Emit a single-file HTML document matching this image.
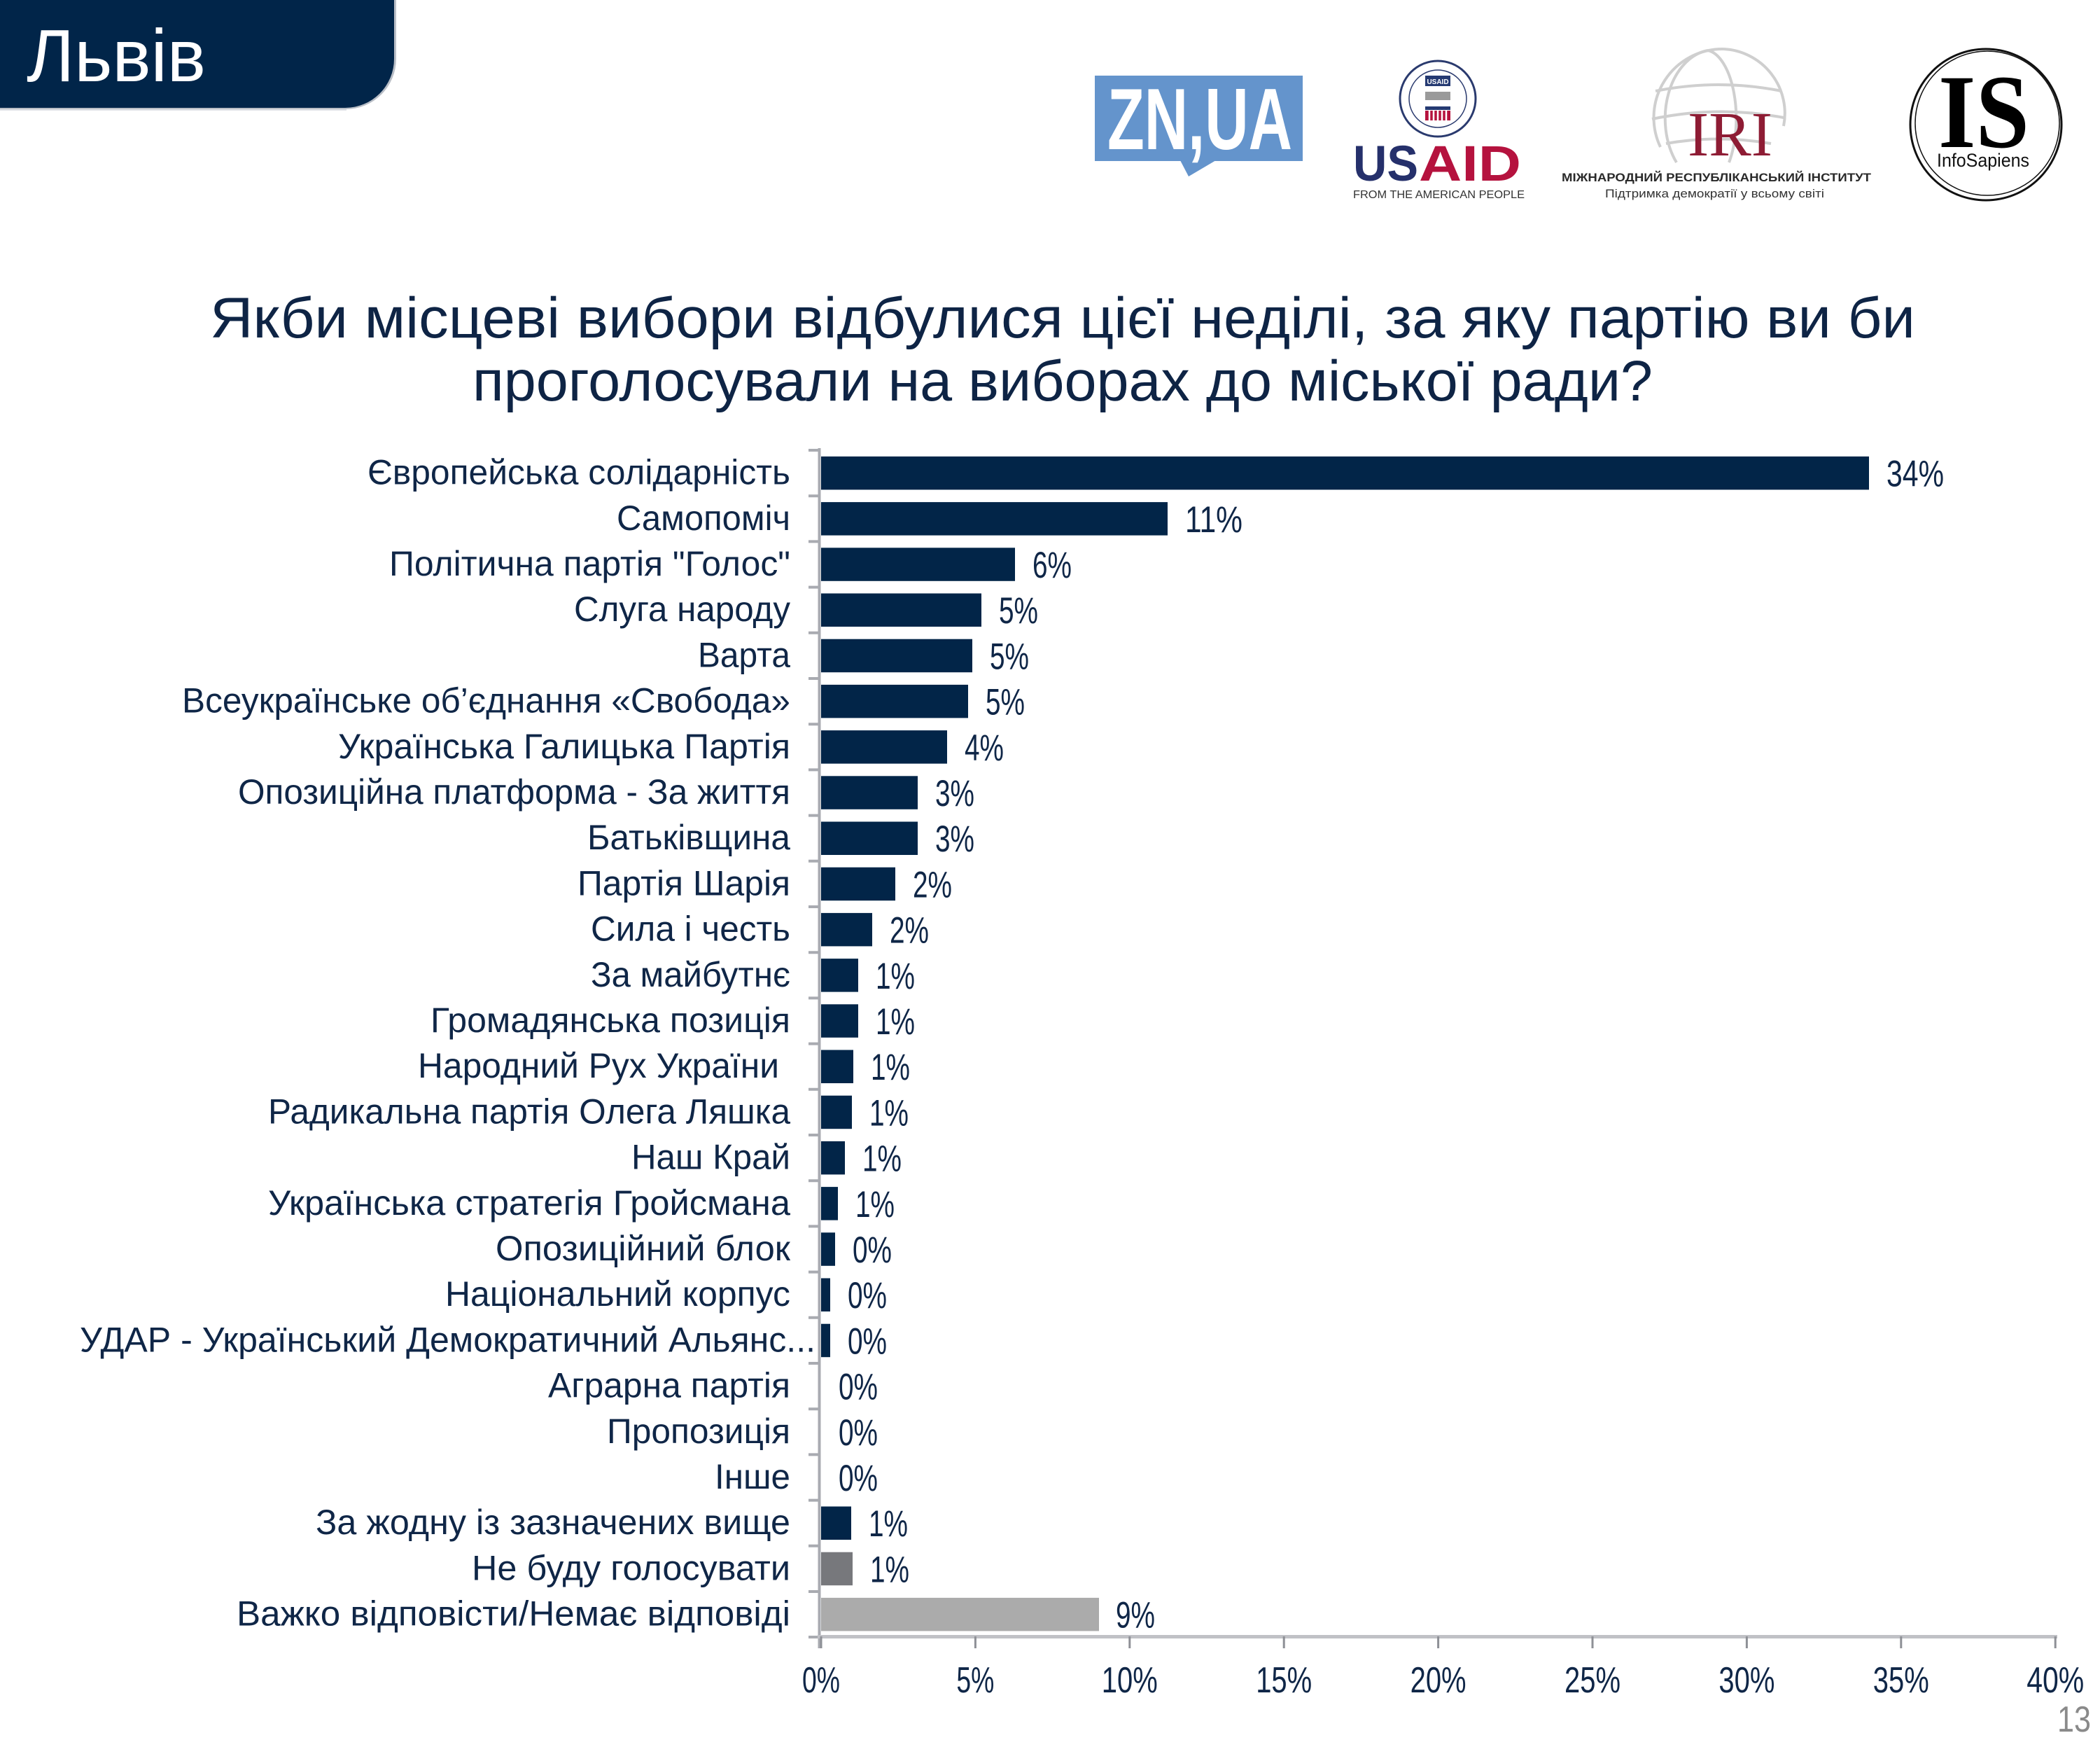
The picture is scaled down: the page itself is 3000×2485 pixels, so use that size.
<!DOCTYPE html>
<html lang="uk">
<head>
<meta charset="utf-8">
<title>Львів</title>
<style>
  html, body { margin: 0; padding: 0; background: #ffffff; }
  body { width: 3000px; height: 2485px; overflow: hidden; }
  svg { display: block; }
  text { font-family: "Liberation Sans", "DejaVu Sans", sans-serif; }
  .lbl { font-size: 50px; fill: #0f2647; text-anchor: end; }
  .val { font-size: 53px; fill: #0f2647; }
  .tick { font-size: 52px; fill: #0f2647; text-anchor: middle; }
  .title { font-size: 82px; fill: #0e2445; }
</style>
</head>
<body>
<svg width="3000" height="2485" viewBox="0 0 3000 2485" xmlns="http://www.w3.org/2000/svg">
  <rect x="0" y="0" width="3000" height="2485" fill="#ffffff"/>

  <!-- Header box -->
  <rect x="0" y="150" width="495" height="8" fill="#e0e2e7"/>
  <path d="M0,0 H566 V84 A72,72 0 0 1 494,156 H0 Z" fill="#b9bec6"/>
  <path d="M0,0 H563 V84 A70,70 0 0 1 493,154 H0 Z" fill="#012549"/>
  <text x="38" y="116" font-size="106" fill="#ffffff" textLength="256" lengthAdjust="spacingAndGlyphs">Львів</text>

  <!-- ZN,UA logo -->
  <rect x="1564" y="108" width="297" height="122" fill="#6494cc"/>
  <polygon points="1686,229 1737,229 1698,252" fill="#6494cc"/>
  <text x="1582" y="213" font-size="124" font-weight="bold" fill="#ffffff" textLength="264" lengthAdjust="spacingAndGlyphs">ZN,UA</text>

  <!-- USAID logo -->
  <circle cx="2054" cy="141" r="54" fill="#ffffff" stroke="#2a3a6e" stroke-width="3"/>
  <circle cx="2054" cy="141" r="41" fill="#ffffff" stroke="#2a3a6e" stroke-width="1.5"/>
  <rect x="2036" y="108" width="36" height="15" fill="#253a72"/>
  <text x="2054" y="120" font-size="10" fill="#ffffff" text-anchor="middle" font-weight="bold">USAID</text>
  <rect x="2036" y="131" width="36" height="12" fill="#9a9a9a"/>
  <rect x="2036" y="152" width="36" height="5" fill="#253a72"/>
  <rect x="2036" y="158" width="36" height="14" fill="#b5123e"/>
  <g stroke="#ffffff" stroke-width="2.5">
    <line x1="2042" y1="158" x2="2042" y2="172"/>
    <line x1="2048" y1="158" x2="2048" y2="172"/>
    <line x1="2054" y1="158" x2="2054" y2="172"/>
    <line x1="2060" y1="158" x2="2060" y2="172"/>
    <line x1="2066" y1="158" x2="2066" y2="172"/>
  </g>
  <text x="1933" y="258" font-size="71" font-weight="bold" fill="#25306b" textLength="93" lengthAdjust="spacingAndGlyphs">US</text>
  <text x="2027" y="258" font-size="71" font-weight="bold" fill="#b5123e" textLength="146" lengthAdjust="spacingAndGlyphs">AID</text>
  <text x="1933" y="283" font-size="16" fill="#333333" textLength="245" lengthAdjust="spacingAndGlyphs">FROM THE AMERICAN PEOPLE</text>

  <!-- IRI logo -->
  <g fill="none" stroke="#cfcfcf" stroke-width="4">
    <path d="M2372,210 A98,98 0 0 1 2462,70"/>
    <path d="M2462,70 A92,92 0 0 1 2548,180"/>
    <path d="M2395,232 A70,98 0 0 1 2440,72"/>
    <path d="M2440,72 A45,98 0 0 1 2470,232"/>
    <path d="M2365,130 Q2455,112 2545,130"/>
    <path d="M2360,170 Q2455,150 2548,168"/>
    <path d="M2380,205 Q2455,192 2530,205"/>
  </g>
  <text x="2411" y="222" font-family="Liberation Serif, serif" font-size="90" fill="#8e1c34" textLength="121" lengthAdjust="spacingAndGlyphs" style="font-family:'Liberation Serif',serif">IRI</text>
  <text x="2231" y="259" font-size="17" font-weight="bold" fill="#2a2a2a" textLength="442" lengthAdjust="spacingAndGlyphs">МІЖНАРОДНИЙ РЕСПУБЛІКАНСЬКИЙ ІНСТИТУТ</text>
  <text x="2293" y="282" font-size="17" fill="#333333" textLength="313" lengthAdjust="spacingAndGlyphs">Підтримка демократії у всьому світі</text>

  <!-- InfoSapiens logo -->
  <circle cx="2837" cy="178" r="108" fill="none" stroke="#111111" stroke-width="3"/>
  <circle cx="2839" cy="176" r="103" fill="none" stroke="#111111" stroke-width="1.5"/>
  <text x="2769" y="210" font-size="150" font-weight="bold" fill="#000000" textLength="130" lengthAdjust="spacingAndGlyphs" style="font-family:'Liberation Serif',serif">IS</text>
  <text x="2767" y="238" font-size="27" fill="#111111" textLength="132" lengthAdjust="spacingAndGlyphs">InfoSapiens</text>

  <!-- Title -->
  <text class="title" x="300" y="482" textLength="2436" lengthAdjust="spacingAndGlyphs">Якби місцеві вибори відбулися цієї неділі, за яку партію ви би</text>
  <text class="title" x="675" y="572" textLength="1686" lengthAdjust="spacingAndGlyphs">проголосували на виборах до міської ради?</text>

  <!-- Axes -->
  <line x1="1170.5" y1="640" x2="1170.5" y2="2354" stroke="#a9abb1" stroke-width="4"/>
  <path d="M1155 643 H1171 M1155 708.2 H1171 M1155 773.4 H1171 M1155 838.6 H1171 M1155 903.8 H1171 M1155 969 H1171 M1155 1034.2 H1171 M1155 1099.4 H1171 M1155 1164.6 H1171 M1155 1229.8 H1171 M1155 1295 H1171 M1155 1360.2 H1171 M1155 1425.4 H1171 M1155 1490.6 H1171 M1155 1555.8 H1171 M1155 1621 H1171 M1155 1686.2 H1171 M1155 1751.4 H1171 M1155 1816.6 H1171 M1155 1881.8 H1171 M1155 1947 H1171 M1155 2012.2 H1171 M1155 2077.4 H1171 M1155 2142.6 H1171 M1155 2207.8 H1171 M1155 2273 H1171 M1155 2338 H1171" stroke="#a9abb1" stroke-width="4" fill="none"/>
  <line x1="1168" y1="2337.5" x2="2939" y2="2337.5" stroke="#c0c1c6" stroke-width="5"/>
  <path d="M1173 2337 V2354 M1393.4 2337 V2354 M1613.8 2337 V2354 M1834.2 2337 V2354 M2054.6 2337 V2354 M2275 2337 V2354 M2495.4 2337 V2354 M2715.8 2337 V2354 M2936.2 2337 V2354" stroke="#8e9096" stroke-width="3" fill="none"/>

  <!-- Bars -->
  <g fill="#022548">
    <rect x="1173" y="651.9" width="1497" height="47.5"/>
    <rect x="1173" y="717.1" width="495" height="47.5"/>
    <rect x="1173" y="782.3" width="277" height="47.5"/>
    <rect x="1173" y="847.5" width="229" height="47.5"/>
    <rect x="1173" y="912.7" width="216" height="47.5"/>
    <rect x="1173" y="977.9" width="210" height="47.5"/>
    <rect x="1173" y="1043.1" width="180" height="47.5"/>
    <rect x="1173" y="1108.3" width="138" height="47.5"/>
    <rect x="1173" y="1173.5" width="138" height="47.5"/>
    <rect x="1173" y="1238.7" width="106" height="47.5"/>
    <rect x="1173" y="1303.9" width="73" height="47.5"/>
    <rect x="1173" y="1369.1" width="53" height="47.5"/>
    <rect x="1173" y="1434.3" width="53" height="47.5"/>
    <rect x="1173" y="1499.5" width="46" height="47.5"/>
    <rect x="1173" y="1564.7" width="44" height="47.5"/>
    <rect x="1173" y="1629.9" width="34" height="47.5"/>
    <rect x="1173" y="1695.1" width="24" height="47.5"/>
    <rect x="1173" y="1760.3" width="20" height="47.5"/>
    <rect x="1173" y="1825.5" width="13" height="47.5"/>
    <rect x="1173" y="1890.7" width="13" height="47.5"/>
    <rect x="1173" y="2151.5" width="43" height="47.5"/>
  </g>
  <rect x="1173" y="2216.7" width="45" height="47.5" fill="#77787c"/>
  <rect x="1173" y="2281.9" width="397" height="47.5" fill="#ababab"/>

  <!-- Category labels -->
  <text class="lbl" x="1129" y="691.6" textLength="604" lengthAdjust="spacingAndGlyphs">Європейська солідарність</text>
  <text class="lbl" x="1129" y="756.8" textLength="248" lengthAdjust="spacingAndGlyphs">Самопоміч</text>
  <text class="lbl" x="1129" y="822.0" textLength="573" lengthAdjust="spacingAndGlyphs">Політична партія "Голос"</text>
  <text class="lbl" x="1129" y="887.2" textLength="309" lengthAdjust="spacingAndGlyphs">Слуга народу</text>
  <text class="lbl" x="1129" y="952.4" textLength="132" lengthAdjust="spacingAndGlyphs">Варта</text>
  <text class="lbl" x="1129" y="1017.6" textLength="869" lengthAdjust="spacingAndGlyphs">Всеукраїнське об’єднання «Свобода»</text>
  <text class="lbl" x="1129" y="1082.8" textLength="646" lengthAdjust="spacingAndGlyphs">Українська Галицька Партія</text>
  <text class="lbl" x="1129" y="1148.0" textLength="789" lengthAdjust="spacingAndGlyphs">Опозиційна платформа - За життя</text>
  <text class="lbl" x="1129" y="1213.2" textLength="290" lengthAdjust="spacingAndGlyphs">Батьківщина</text>
  <text class="lbl" x="1129" y="1278.4" textLength="304" lengthAdjust="spacingAndGlyphs">Партія Шарія</text>
  <text class="lbl" x="1129" y="1343.6" textLength="285" lengthAdjust="spacingAndGlyphs">Сила і честь</text>
  <text class="lbl" x="1129" y="1408.8" textLength="285" lengthAdjust="spacingAndGlyphs">За майбутнє</text>
  <text class="lbl" x="1129" y="1474.0" textLength="514" lengthAdjust="spacingAndGlyphs">Громадянська позиція</text>
  <text class="lbl" x="1113" y="1539.2" textLength="516" lengthAdjust="spacingAndGlyphs">Народний Рух України</text>
  <text class="lbl" x="1129" y="1604.4" textLength="746" lengthAdjust="spacingAndGlyphs">Радикальна партія Олега Ляшка</text>
  <text class="lbl" x="1129" y="1669.6" textLength="227" lengthAdjust="spacingAndGlyphs">Наш Край</text>
  <text class="lbl" x="1129" y="1734.8" textLength="746" lengthAdjust="spacingAndGlyphs">Українська стратегія Гройсмана</text>
  <text class="lbl" x="1129" y="1800.0" textLength="421" lengthAdjust="spacingAndGlyphs">Опозиційний блок</text>
  <text class="lbl" x="1129" y="1865.2" textLength="493" lengthAdjust="spacingAndGlyphs">Національний корпус</text>
  <text class="lbl" x="1165" y="1930.4" textLength="1051" lengthAdjust="spacingAndGlyphs">УДАР - Український Демократичний Альянс...</text>
  <text class="lbl" x="1129" y="1995.6" textLength="346" lengthAdjust="spacingAndGlyphs">Аграрна партія</text>
  <text class="lbl" x="1129" y="2060.8" textLength="262" lengthAdjust="spacingAndGlyphs">Пропозиція</text>
  <text class="lbl" x="1129" y="2126.0" textLength="108" lengthAdjust="spacingAndGlyphs">Інше</text>
  <text class="lbl" x="1129" y="2191.2" textLength="678" lengthAdjust="spacingAndGlyphs">За жодну із зазначених вище</text>
  <text class="lbl" x="1129" y="2256.4" textLength="455" lengthAdjust="spacingAndGlyphs">Не буду голосувати</text>
  <text class="lbl" x="1129" y="2321.6" textLength="791" lengthAdjust="spacingAndGlyphs">Важко відповісти/Немає відповіді</text>

  <!-- Value labels -->
  <text class="val" x="2695" y="694.6" textLength="82" lengthAdjust="spacingAndGlyphs">34%</text>
  <text class="val" x="1693" y="759.8" textLength="82" lengthAdjust="spacingAndGlyphs">11%</text>
  <text class="val" x="1475" y="825.0" textLength="56" lengthAdjust="spacingAndGlyphs">6%</text>
  <text class="val" x="1427" y="890.2" textLength="56" lengthAdjust="spacingAndGlyphs">5%</text>
  <text class="val" x="1414" y="955.4" textLength="56" lengthAdjust="spacingAndGlyphs">5%</text>
  <text class="val" x="1408" y="1020.6" textLength="56" lengthAdjust="spacingAndGlyphs">5%</text>
  <text class="val" x="1378" y="1085.8" textLength="56" lengthAdjust="spacingAndGlyphs">4%</text>
  <text class="val" x="1336" y="1151.0" textLength="56" lengthAdjust="spacingAndGlyphs">3%</text>
  <text class="val" x="1336" y="1216.2" textLength="56" lengthAdjust="spacingAndGlyphs">3%</text>
  <text class="val" x="1304" y="1281.4" textLength="56" lengthAdjust="spacingAndGlyphs">2%</text>
  <text class="val" x="1271" y="1346.6" textLength="56" lengthAdjust="spacingAndGlyphs">2%</text>
  <text class="val" x="1251" y="1411.8" textLength="56" lengthAdjust="spacingAndGlyphs">1%</text>
  <text class="val" x="1251" y="1477.0" textLength="56" lengthAdjust="spacingAndGlyphs">1%</text>
  <text class="val" x="1244" y="1542.2" textLength="56" lengthAdjust="spacingAndGlyphs">1%</text>
  <text class="val" x="1242" y="1607.4" textLength="56" lengthAdjust="spacingAndGlyphs">1%</text>
  <text class="val" x="1232" y="1672.6" textLength="56" lengthAdjust="spacingAndGlyphs">1%</text>
  <text class="val" x="1222" y="1737.8" textLength="56" lengthAdjust="spacingAndGlyphs">1%</text>
  <text class="val" x="1218" y="1803.0" textLength="56" lengthAdjust="spacingAndGlyphs">0%</text>
  <text class="val" x="1211" y="1868.2" textLength="56" lengthAdjust="spacingAndGlyphs">0%</text>
  <text class="val" x="1211" y="1933.4" textLength="56" lengthAdjust="spacingAndGlyphs">0%</text>
  <text class="val" x="1198" y="1998.6" textLength="56" lengthAdjust="spacingAndGlyphs">0%</text>
  <text class="val" x="1198" y="2063.8" textLength="56" lengthAdjust="spacingAndGlyphs">0%</text>
  <text class="val" x="1198" y="2129.0" textLength="56" lengthAdjust="spacingAndGlyphs">0%</text>
  <text class="val" x="1241" y="2194.2" textLength="56" lengthAdjust="spacingAndGlyphs">1%</text>
  <text class="val" x="1243" y="2259.4" textLength="56" lengthAdjust="spacingAndGlyphs">1%</text>
  <text class="val" x="1594" y="2324.6" textLength="56" lengthAdjust="spacingAndGlyphs">9%</text>

  <!-- X tick labels -->
  <text class="tick" x="1173" y="2417" textLength="54" lengthAdjust="spacingAndGlyphs">0%</text>
  <text class="tick" x="1393.4" y="2417" textLength="54" lengthAdjust="spacingAndGlyphs">5%</text>
  <text class="tick" x="1613.8" y="2417" textLength="80" lengthAdjust="spacingAndGlyphs">10%</text>
  <text class="tick" x="1834.2" y="2417" textLength="80" lengthAdjust="spacingAndGlyphs">15%</text>
  <text class="tick" x="2054.6" y="2417" textLength="80" lengthAdjust="spacingAndGlyphs">20%</text>
  <text class="tick" x="2275" y="2417" textLength="80" lengthAdjust="spacingAndGlyphs">25%</text>
  <text class="tick" x="2495.4" y="2417" textLength="80" lengthAdjust="spacingAndGlyphs">30%</text>
  <text class="tick" x="2715.8" y="2417" textLength="80" lengthAdjust="spacingAndGlyphs">35%</text>
  <text class="tick" x="2936.2" y="2417" textLength="82" lengthAdjust="spacingAndGlyphs">40%</text>

  <!-- Page number -->
  <text x="2939" y="2473" font-size="52" fill="#8a8a8a" textLength="48" lengthAdjust="spacingAndGlyphs">13</text>
</svg>
</body>
</html>
